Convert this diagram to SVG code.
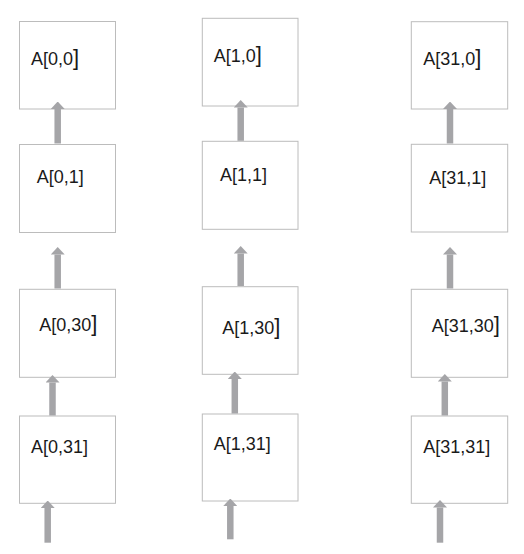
<svg xmlns="http://www.w3.org/2000/svg" width="524" height="554" viewBox="0 0 524 554">
<style>
.box{fill:#ffffff;stroke:#bcbcbc;stroke-width:1}
.lbl{font-family:"Liberation Sans",Arial,sans-serif;font-size:18px;fill:#1a1a1a}
.big{font-size:22px}
.arr{stroke:#a5a5a8;stroke-width:6.5;fill:none}
</style>
<defs>
<marker id="ah" markerUnits="userSpaceOnUse" markerWidth="7.5" markerHeight="14" viewBox="0 0 7.5 14" refX="0" refY="7" orient="auto">
<path d="M0,0 L7.5,7 L0,14 Z" fill="#a5a5a8"/>
</marker>
</defs>
<rect width="524" height="554" fill="#ffffff"/>
<g id="n-0-0"><rect class="box" x="19.5" y="21.5" width="96" height="87.5"/><text class="lbl" x="31" y="65">A[0,0<tspan class="big">]</tspan></text></g>
<g id="n-0-1"><rect class="box" x="19.5" y="144.5" width="96" height="88"/><text class="lbl" x="36.7" y="183.3">A[0,1]</text></g>
<g id="n-0-30"><rect class="box" x="19.5" y="289.3" width="96" height="88"/><text class="lbl" x="39.3" y="330.7">A[0,30<tspan class="big">]</tspan></text></g>
<g id="n-0-31"><rect class="box" x="19.5" y="416" width="96" height="87.3"/><text class="lbl" x="31" y="452.7">A[0,31]</text></g>
<g id="n-1-0"><rect class="box" x="202.3" y="18.3" width="95.7" height="87.7"/><text class="lbl" x="213.7" y="62">A[1,0<tspan class="big">]</tspan></text></g>
<g id="n-1-1"><rect class="box" x="202.3" y="141.3" width="95.7" height="88"/><text class="lbl" x="220" y="181">A[1,1]</text></g>
<g id="n-1-30"><rect class="box" x="202.3" y="286.7" width="95.7" height="87.6"/><text class="lbl" x="222.3" y="334">A[1,30<tspan class="big">]</tspan></text></g>
<g id="n-1-31"><rect class="box" x="202.3" y="414" width="95.7" height="87"/><text class="lbl" x="213.7" y="450">A[1,31]</text></g>
<g id="n-31-0"><rect class="box" x="411.3" y="21.7" width="96.4" height="87.3"/><text class="lbl" x="423.3" y="65">A[31,0<tspan class="big">]</tspan></text></g>
<g id="n-31-1"><rect class="box" x="411.3" y="144.3" width="96.4" height="87.7"/><text class="lbl" x="429.3" y="184.3">A[31,1]</text></g>
<g id="n-31-30"><rect class="box" x="411.3" y="289.3" width="96.4" height="88"/><text class="lbl" x="431.7" y="331.7">A[31,30<tspan class="big">]</tspan></text></g>
<g id="n-31-31"><rect class="box" x="411.3" y="416" width="96.4" height="87.3"/><text class="lbl" x="423.3" y="453.3">A[31,31]</text></g>
<g id="connectors">
<line class="arr" marker-end="url(#ah)" x1="57.7" y1="143.5" x2="57.7" y2="109"/>
<line class="arr" marker-end="url(#ah)" x1="57.7" y1="288.5" x2="57.7" y2="254.5"/>
<line class="arr" marker-end="url(#ah)" x1="52.5" y1="415.5" x2="52.5" y2="382.5"/>
<line class="arr" marker-end="url(#ah)" x1="47.7" y1="542.7" x2="47.7" y2="508"/>
<line class="arr" marker-end="url(#ah)" x1="240.7" y1="140.8" x2="240.7" y2="107.5"/>
<line class="arr" marker-end="url(#ah)" x1="240.7" y1="286" x2="240.7" y2="253.5"/>
<line class="arr" marker-end="url(#ah)" x1="234.8" y1="413.5" x2="234.8" y2="379"/>
<line class="arr" marker-end="url(#ah)" x1="230.3" y1="539.3" x2="230.3" y2="506"/>
<line class="arr" marker-end="url(#ah)" x1="450" y1="143.5" x2="450" y2="109"/>
<line class="arr" marker-end="url(#ah)" x1="450" y1="288.5" x2="450" y2="254.5"/>
<line class="arr" marker-end="url(#ah)" x1="444.8" y1="415.5" x2="444.8" y2="381.5"/>
<line class="arr" marker-end="url(#ah)" x1="440" y1="542.7" x2="440" y2="507.5"/>
</g>
</svg>
